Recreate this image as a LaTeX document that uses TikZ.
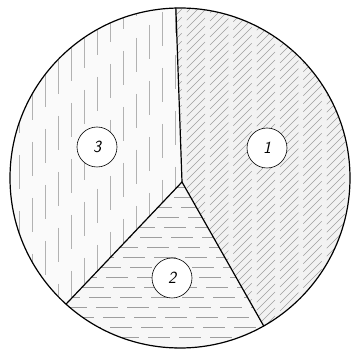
\documentclass[tikz,border=0pt]{standalone}
\usepackage{tikz}
\usetikzlibrary{calc}

\begin{document}
\begin{tikzpicture}[
        x=1pt, y=1pt,
        rim/.style={draw, line width=1.2pt},
        spoke/.style={line width=1.2pt, line cap=round},
        hatch/.style={black!38, line width=0.4pt, dash pattern=on 22pt off 9pt},
        label/.style={circle, draw, line width=0.6pt, minimum size=40pt, inner sep=0pt,
                      font=\fontsize{17}{17}\selectfont\sffamily\itshape},
    ]
        \useasboundingbox (0,0) rectangle (354,351);
        \coordinate (O) at (180,173);
        \coordinate (h) at (182,169);
        \coordinate (t) at ($(O)+(91.4:170)$);
        \coordinate (r) at ($(O)+(-60.5:170)$);
        \coordinate (l) at ($(O)+(227.9:170)$);

        % sector 1: diagonal hatching
        \begin{scope}
            \clip (h) -- (t) arc[start angle=91.4, end angle=-60.5, radius=170] -- cycle;
            \fill[black!5] (0,0) rectangle (354,351);
            \foreach \i in {-40,...,40}
                \draw[hatch, dash pattern=on 26pt off 7pt] (0,\i*8) -- ++(400,400);
        \end{scope}

        % sector 2: horizontal hatching
        \begin{scope}
            \clip (h) -- (r) arc[start angle=-60.5, end angle=-132.1, radius=170] -- cycle;
            \fill[black!3] (0,0) rectangle (354,351);
            \foreach \i in {0,...,16}
                \draw[hatch, dash phase=\i*7pt] (0,\i*10+4) -- (354,\i*10+4);
        \end{scope}

        % sector 3: vertical hatching
        \begin{scope}
            \clip (h) -- (l) arc[start angle=227.9, end angle=91.4, radius=170] -- cycle;
            \fill[black!2] (0,0) rectangle (354,351);
            \foreach \i in {0,...,13}
                \draw[hatch, black!30, dash pattern=on 34pt off 22pt, dash phase=\i*13pt]
                    (\i*13+6,351) -- (\i*13+6,0);
        \end{scope}

        \draw[rim] (O) circle[radius=170];
        \draw[spoke] (h) -- (t);
        \draw[spoke] (h) -- (r);
        \draw[spoke] (h) -- (l);

        \node[label, fill=white] (n1) at (267,203) {1};
        \node[label, fill=white] (n2) at (172,73) {2};
        \node[label, fill=white] (n3) at (97,204) {3};
    \end{tikzpicture}
\end{document}
